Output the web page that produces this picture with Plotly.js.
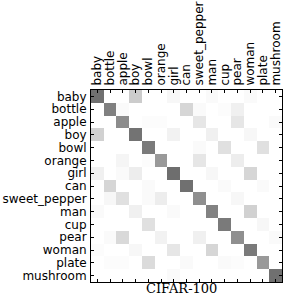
<!DOCTYPE html>
<html><head><meta charset="utf-8">
<script src="https://cdn.plot.ly/plotly-3.0.1.min.js"></script>
<style>html,body{margin:0;padding:0;background:#fff;}#chart{width:283px;height:295px;}</style>
</head><body><div id="chart"></div>
<script>
const categories = ["baby","bottle","apple","boy","bowl","orange","girl","can","sweet_pepper","man","cup","pear","woman","plate","mushroom"];
const datasetLabel = "CIFAR-100";
// confusion values (row = true class, column = predicted class)
const row_baby         = [0.56,0.00,0.00,0.20,0.00,0.00,0.03,0.00,0.00,0.02,0.00,0.00,0.02,0.00,0.00];
const row_bottle       = [0.00,0.50,0.02,0.00,0.00,0.00,0.00,0.16,0.02,0.00,0.01,0.06,0.00,0.00,0.00];
const row_apple        = [0.00,0.00,0.45,0.00,0.01,0.01,0.00,0.00,0.10,0.00,0.00,0.10,0.00,0.00,0.02];
const row_boy          = [0.18,0.00,0.00,0.55,0.00,0.00,0.05,0.00,0.00,0.06,0.00,0.00,0.03,0.00,0.00];
const row_bowl         = [0.00,0.00,0.00,0.00,0.52,0.00,0.00,0.00,0.02,0.00,0.12,0.00,0.00,0.12,0.00];
const row_orange       = [0.00,0.00,0.04,0.00,0.01,0.40,0.00,0.00,0.10,0.00,0.00,0.07,0.00,0.00,0.00];
const row_girl         = [0.06,0.00,0.02,0.07,0.00,0.00,0.57,0.00,0.00,0.03,0.00,0.00,0.16,0.00,0.00];
const row_can          = [0.00,0.16,0.00,0.00,0.02,0.00,0.00,0.56,0.00,0.00,0.02,0.00,0.00,0.02,0.00];
const row_sweet_pepper = [0.00,0.03,0.12,0.00,0.02,0.07,0.00,0.00,0.44,0.00,0.00,0.03,0.00,0.00,0.00];
const row_man          = [0.02,0.00,0.00,0.06,0.00,0.00,0.02,0.00,0.00,0.49,0.00,0.00,0.18,0.00,0.00];
const row_cup          = [0.00,0.00,0.00,0.00,0.12,0.00,0.00,0.00,0.00,0.00,0.52,0.00,0.00,0.03,0.00];
const row_pear         = [0.00,0.02,0.15,0.00,0.00,0.05,0.00,0.00,0.06,0.00,0.00,0.44,0.00,0.00,0.02];
const row_woman        = [0.01,0.00,0.00,0.03,0.00,0.00,0.10,0.00,0.00,0.16,0.00,0.00,0.52,0.00,0.00];
const row_plate        = [0.00,0.01,0.01,0.00,0.14,0.00,0.00,0.02,0.00,0.00,0.02,0.01,0.00,0.40,0.00];
const row_mushroom     = [0.00,0.00,0.00,0.00,0.00,0.00,0.02,0.00,0.00,0.00,0.00,0.00,0.00,0.00,0.56];
const zValues = [row_baby,row_bottle,row_apple,row_boy,row_bowl,row_orange,row_girl,row_can,row_sweet_pepper,row_man,row_cup,row_pear,row_woman,row_plate,row_mushroom];

const tickFont = {family:"DejaVu Sans", size:12, color:"#000"};
const data = [{
  type:"heatmap", x:categories, y:categories, z:zValues,
  zmin:0, zmax:1, colorscale:[[0,"#ffffff"],[1,"#000000"]],
  showscale:false, hoverinfo:"none"
}];
const axisCommon = {type:"category", tickmode:"array", tickvals:categories, ticktext:categories,
  tickfont:tickFont, ticks:"inside", ticklen:3, tickcolor:"#000", showline:true, mirror:"ticks",
  linecolor:"#000", linewidth:1, showgrid:false, zeroline:false, fixedrange:true,
  ticklabelstandoff:1, automargin:false};
const layout = {
  width:283, height:295,
  margin:{l:91, r:1, t:90, b:13, pad:0},
  paper_bgcolor:"#fff", plot_bgcolor:"#fff",
  xaxis:Object.assign({}, axisCommon, {side:"top", tickangle:-90}),
  yaxis:Object.assign({}, axisCommon, {autorange:"reversed"}),
  annotations:[{text:datasetLabel, xref:"paper", yref:"paper", x:0.474, y:0,
                xanchor:"center", yanchor:"middle", yshift:-6, showarrow:false,
                font:{family:"DejaVu Serif", size:13, color:"#000"}}]
};
Plotly.newPlot("chart", data, layout, {staticPlot:true, displayModeBar:false});
</script></body></html>
